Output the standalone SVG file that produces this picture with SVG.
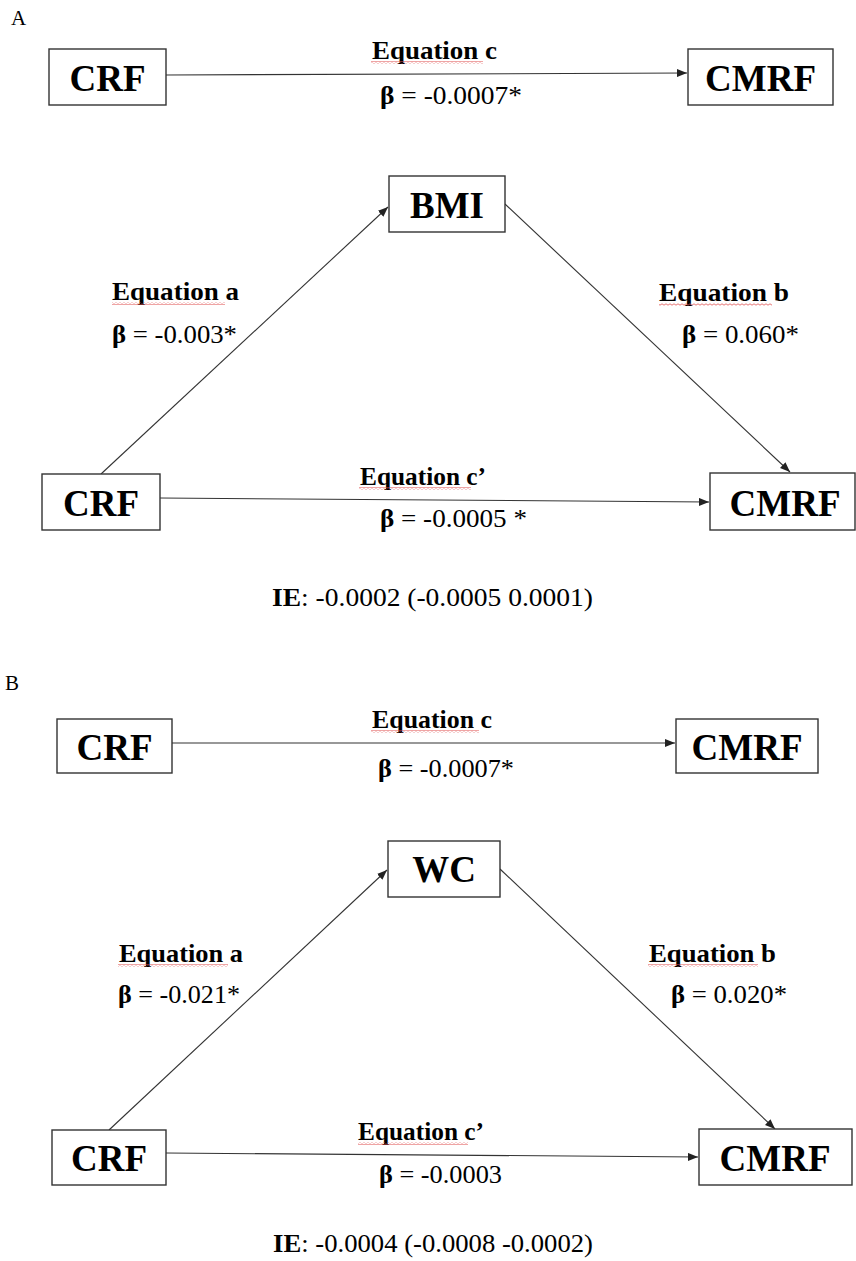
<svg xmlns="http://www.w3.org/2000/svg" width="856" height="1261" viewBox="0 0 856 1261">
<style>
.box{fill:#fff;stroke:#333;stroke-width:1.4}
.node{font-family:"Liberation Serif","Times New Roman",serif;font-weight:bold;font-size:37px;fill:#000;text-anchor:middle}
.lbl{font-family:"Liberation Serif","Times New Roman",serif;font-size:26px;fill:#000}
.eq{font-weight:bold}
.b{font-weight:bold}
.panel{font-family:"Liberation Serif","Times New Roman",serif;font-size:21px;fill:#000}
.edge{stroke:#333;stroke-width:1.1;fill:none;marker-end:url(#arr)}
</style>
<defs>
<marker id="arr" markerUnits="userSpaceOnUse" markerWidth="10" markerHeight="8" refX="10" refY="4" orient="auto">
<path d="M0,0 L10,4 L0,8 z" fill="#222"/>
</marker>
<pattern id="wave" patternUnits="userSpaceOnUse" width="4" height="3">
<path d="M0,2.2 L2,0.8 L4,2.2" stroke="#e05050" stroke-width="0.8" fill="none"/>
</pattern>
</defs>
<rect width="856" height="1261" fill="#fff"/>

<text class="panel" x="11" y="25">A</text>
<text class="panel" x="5" y="690">B</text>

<g id="connectors">
<line class="edge" x1="166" y1="75" x2="687" y2="73"/>
<line class="edge" x1="101" y1="474" x2="388" y2="207"/>
<line class="edge" x1="505" y1="204" x2="790" y2="472"/>
<line class="edge" x1="160" y1="498" x2="709" y2="502"/>
<line class="edge" x1="172" y1="743" x2="675" y2="743"/>
<line class="edge" x1="109" y1="1130" x2="387" y2="870"/>
<line class="edge" x1="500" y1="869" x2="775" y2="1129"/>
<line class="edge" x1="166" y1="1153" x2="698" y2="1157"/>
</g>

<g id="A-CRF-top"><rect class="box" x="49" y="49" width="117" height="56"/><text class="node" x="107.5" y="91">CRF</text></g>
<g id="A-CMRF-top"><rect class="box" x="688" y="49" width="145" height="56"/><text class="node" x="760.5" y="91">CMRF</text></g>
<g id="A-BMI"><rect class="box" x="389" y="176" width="116" height="56"/><text class="node" x="447" y="218">BMI</text></g>
<g id="A-CRF-bottom"><rect class="box" x="42" y="474" width="118" height="56"/><text class="node" x="101" y="516">CRF</text></g>
<g id="A-CMRF-bottom"><rect class="box" x="710" y="473" width="145" height="57"/><text class="node" x="785" y="516">CMRF</text></g>

<g id="B-CRF-top"><rect class="box" x="57" y="719" width="115" height="54"/><text class="node" x="114.5" y="760">CRF</text></g>
<g id="B-CMRF-top"><rect class="box" x="676" y="719" width="142" height="54"/><text class="node" x="747" y="760">CMRF</text></g>
<g id="B-WC"><rect class="box" x="388" y="841" width="112" height="56"/><text class="node" x="444" y="882">WC</text></g>
<g id="B-CRF-bottom"><rect class="box" x="52" y="1130" width="114" height="55"/><text class="node" x="109" y="1171">CRF</text></g>
<g id="B-CMRF-bottom"><rect class="box" x="699" y="1129" width="153" height="56"/><text class="node" x="775" y="1171">CMRF</text></g>

<g id="labels">
<text class="lbl eq" x="372" y="59" textLength="125" lengthAdjust="spacingAndGlyphs">Equation c</text>
<rect x="371" y="61" width="112" height="3" fill="url(#wave)"/>
<text class="lbl" x="380" y="104" textLength="142" lengthAdjust="spacingAndGlyphs"><tspan class="b">β</tspan> = -0.0007*</text>

<text class="lbl eq" x="112" y="300" textLength="127" lengthAdjust="spacingAndGlyphs">Equation a</text>
<rect x="112" y="302" width="113" height="3" fill="url(#wave)"/>
<text class="lbl" x="112" y="343" textLength="125" lengthAdjust="spacingAndGlyphs"><tspan class="b">β</tspan> = -0.003*</text>

<text class="lbl eq" x="659" y="301" textLength="130" lengthAdjust="spacingAndGlyphs">Equation b</text>
<rect x="659" y="303" width="113" height="3" fill="url(#wave)"/>
<text class="lbl" x="682" y="343" textLength="117" lengthAdjust="spacingAndGlyphs"><tspan class="b">β</tspan> = 0.060*</text>

<text class="lbl eq" x="360" y="485" textLength="126" lengthAdjust="spacingAndGlyphs">Equation c’</text>
<rect x="359" y="487" width="112" height="3" fill="url(#wave)"/>
<text class="lbl" x="380" y="527" textLength="147" lengthAdjust="spacingAndGlyphs"><tspan class="b">β</tspan> = -0.0005 *</text>

<text class="lbl" x="272" y="606" textLength="321" lengthAdjust="spacingAndGlyphs"><tspan class="b">IE</tspan>: -0.0002 (-0.0005 0.0001)</text>

<text class="lbl eq" x="372" y="728" textLength="120" lengthAdjust="spacingAndGlyphs">Equation c</text>
<rect x="371" y="730" width="108" height="3" fill="url(#wave)"/>
<text class="lbl" x="378" y="777" textLength="136" lengthAdjust="spacingAndGlyphs"><tspan class="b">β</tspan> = -0.0007*</text>

<text class="lbl eq" x="119" y="962" textLength="124" lengthAdjust="spacingAndGlyphs">Equation a</text>
<rect x="118" y="964" width="110" height="3" fill="url(#wave)"/>
<text class="lbl" x="118" y="1003" textLength="122" lengthAdjust="spacingAndGlyphs"><tspan class="b">β</tspan> = -0.021*</text>

<text class="lbl eq" x="649" y="962" textLength="127" lengthAdjust="spacingAndGlyphs">Equation b</text>
<rect x="648" y="964" width="110" height="3" fill="url(#wave)"/>
<text class="lbl" x="671" y="1003" textLength="116" lengthAdjust="spacingAndGlyphs"><tspan class="b">β</tspan> = 0.020*</text>

<text class="lbl eq" x="358" y="1140" textLength="126" lengthAdjust="spacingAndGlyphs">Equation c’</text>
<rect x="358" y="1142" width="110" height="3" fill="url(#wave)"/>
<text class="lbl" x="379" y="1183" textLength="123" lengthAdjust="spacingAndGlyphs"><tspan class="b">β</tspan> = -0.0003</text>

<text class="lbl" x="273" y="1252" textLength="320" lengthAdjust="spacingAndGlyphs"><tspan class="b">IE</tspan>: -0.0004 (-0.0008 -0.0002)</text>
</g>
</svg>
